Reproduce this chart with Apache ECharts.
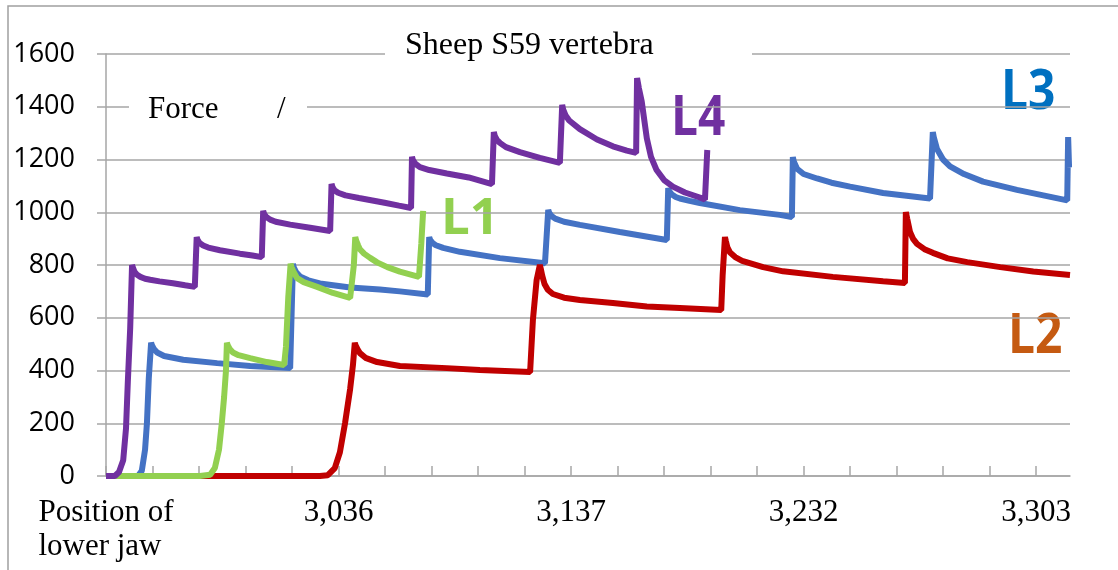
<!DOCTYPE html>
<html>
<head>
<meta charset="utf-8">
<title>Sheep S59 vertebra</title>
<script src="https://cdn.jsdelivr.net/npm/echarts@6/dist/echarts.min.js"></script>
<style>
  html, body { margin: 0; padding: 0; background: #fff; }
  #chart { width: 1118px; height: 570px; }
</style>
</head>
<body>
<div id="chart"></div>
<script>
// Position along the jaw travel (sample index, ticks every 10) and force readings.
const tickLabels = ['Position of\nlower jaw', '3,036', '3,137', '3,232', '3,303'];
const labelPos = [0, 50, 100, 150, 200];
const tickPos = [0, 10, 20, 30, 40, 50, 60, 70, 80, 90, 100, 110, 120, 130, 140, 150, 160, 170, 180, 190, 200];
const forceTicks = [0, 200, 400, 600, 800, 1000, 1200, 1400, 1600];

// L4
const l4Pos = [0, 1.9, 2.8, 3.7, 4.3, 4.7, 5.2, 5.6,
  5.8, 6.1, 6.6, 7.4, 8.4, 9.5, 11.5, 14.4, 17.0, 19.1,
  19.5, 19.7, 20.1, 20.9, 22.0, 24.5, 28.8, 31.5, 33.5,
  33.8, 34.0, 34.4, 35.3, 36.5, 39.6, 43.9, 48.2,
  48.5, 48.7, 49.1, 49.9, 51.5, 54.4, 59.9, 63.0, 65.6,
  65.8, 66.0, 66.5, 67.5, 69.5, 73.3, 78.0, 83.0,
  83.4, 83.6, 84.0, 84.7, 86.0, 89.0, 93.3, 97.6,
  98.1, 98.3, 98.8, 99.6, 101.9, 105.6, 109.0, 112.0, 114.0,
  114.2, 114.6, 115.2, 116.3, 117.2, 118.4, 120.0, 121.9, 124.5, 127.7, 128.8,
  129.3];
const l4Force = [0, 0, 15, 60, 180, 360, 560, 800,
  790, 775, 764, 755, 748, 744, 738, 731, 723, 717,
  906, 895, 884, 874, 866, 856, 843, 836, 830,
  1005, 994, 983, 972, 964, 953, 941, 929,
  1107, 1096, 1084, 1074, 1064, 1054, 1036, 1025, 1016,
  1210, 1198, 1184, 1171, 1160, 1147, 1132, 1107,
  1304, 1290, 1276, 1263, 1247, 1228, 1206, 1187,
  1407, 1390, 1368, 1348, 1315, 1276, 1250, 1234, 1225,
  1509, 1470, 1420, 1280, 1210, 1160, 1122, 1097, 1075, 1056, 1048,
  1236];

// L3
const l3Pos = [0, 6.9, 7.7, 8.4, 8.8, 9.2, 9.7,
  9.9, 10.3, 11.0, 12.5, 16.6, 23.9, 31.0, 39.6,
  40.2, 40.4, 40.9, 41.7, 43.5, 46.0, 52.5, 58.9, 63.2, 69.2,
  69.5, 69.7, 70.2, 70.8, 72.5, 76.1, 84.7, 94.4,
  95.1, 95.3, 95.8, 96.6, 98.5, 101.9, 110.5, 120.6,
  120.9, 121.1, 121.7, 122.5, 123.4, 125.5, 127.7, 136.3, 144.9, 147.5,
  147.7, 147.9, 148.6, 150.0, 152.9, 156.0, 160.0, 167.1, 177.2,
  177.8, 178.0, 178.7, 180.0, 181.5, 184.5, 188.6, 195.9, 206.7,
  206.9, 207.1];
const l3Force = [0, 0, 20, 100, 200, 370, 505,
  495, 482, 468, 455, 441, 428, 417, 409,
  804, 790, 772, 757, 742, 730, 715, 707, 700, 688,
  906, 895, 884, 876, 865, 850, 826, 807,
  1009, 998, 986, 976, 964, 952, 925, 895,
  1092, 1080, 1067, 1058, 1052, 1043, 1035, 1008, 990, 982,
  1209, 1192, 1165, 1145, 1128, 1112, 1097, 1073, 1052,
  1304, 1285, 1240, 1200, 1174, 1145, 1116, 1085, 1045,
  1285, 1170];

// L1
const l1Pos = [0, 20.2, 22.4, 23.4, 24.3, 24.9, 25.4, 25.8, 26.0,
  26.2, 26.6, 27.3, 28.5, 31.0, 34.6, 38.3,
  38.7, 39.2, 39.7,
  39.9, 40.3, 41.1, 42.5, 45.4, 48.8, 52.5,
  52.9, 53.3, 53.6,
  53.8, 54.2, 54.6, 55.5, 56.8, 58.3, 60.5, 63.2, 67.3,
  67.8, 68.2];
const l1Force = [0, 0, 5, 30, 100, 200, 300, 400, 505,
  495, 482, 468, 458, 447, 432, 421,
  490, 680, 805,
  792, 775, 750, 735, 717, 694, 675,
  680, 800, 906,
  893, 875, 860, 843, 827, 810, 792, 775, 755,
  880, 1005];

// L2
const l2Pos = [0, 46.0, 47.7, 49.2, 50.3, 51.4, 52.5, 53.1, 53.5,
  53.7, 54.1, 54.6, 55.8, 58.3, 63.2, 73.3, 80.4, 91.2,
  91.8, 92.6, 93.3,
  93.5, 93.8, 94.3, 95.0, 96.1, 98.5, 101.9, 109.0, 116.3, 123.4, 132.3,
  132.6, 133.1,
  133.3, 133.6, 134.2, 135.3, 136.8, 141.3, 145.6, 156.3, 167.1, 171.8,
  172.0,
  172.3, 172.9, 173.6, 174.4, 176.0, 177.8, 181.0, 185.2, 192.3, 199.4, 207.3];
const l2Force = [0, 0, 3, 30, 90, 200, 330, 420, 505,
  494, 480, 466, 448, 432, 417, 409, 402, 394,
  591, 743, 800,
  785, 760, 728, 706, 690, 676, 667, 656, 643, 637, 629,
  760, 906,
  890, 868, 847, 830, 816, 792, 776, 755, 738, 732,
  1001,
  975, 925, 898, 880, 860, 846, 825, 811, 792, 775, 762];

const zip = (xs, ys) => xs.map((x, i) => [x, ys[i]]);

const gridColor = '#A6A6A6';
const serif = '"Liberation Serif", "Times New Roman", serif';
const sans = '"Open Sans", "Noto Sans", sans-serif';

function lineSeries(name, color, xs, ys) {
  return {
    name: name,
    type: 'line',
    data: zip(xs, ys),
    showSymbol: false,
    symbol: 'none',
    lineStyle: { color: color, width: 6, cap: 'butt', join: 'bevel' },
    itemStyle: { color: color },
    emphasis: { disabled: true },
    animation: false
  };
}

const chart = echarts.init(document.getElementById('chart'), null, { renderer: 'canvas' });

chart.setOption({
  animation: false,
  backgroundColor: '#fff',
  grid: { left: 106, right: 48, top: 54, bottom: 94 },
  xAxis: {
    type: 'value',
    min: 0,
    max: 207.3,
    axisLine: { show: true, lineStyle: { color: gridColor, width: 1.5 } },
    axisTick: {
      show: true, inside: true, length: 10,
      customValues: tickPos,
      lineStyle: { color: gridColor, width: 1.5 }
    },
    splitLine: { show: false },
    axisLabel: {
      customValues: labelPos,
      margin: 20,
      color: '#000',
      fontFamily: serif,
      fontSize: 31,
      lineHeight: 34,
      formatter: function (value) {
        const i = labelPos.indexOf(Math.round(value));
        if (i < 0) return '';
        if (i === 0) {
          return tickLabels[0].split('\n').map(function (s) { return '{h|' + s + '}'; }).join('\n');
        }
        return tickLabels[i];
      },
      rich: {
        h: { align: 'left', fontFamily: serif, fontSize: 31, lineHeight: 34, color: '#000' }
      }
    }
  },
  yAxis: {
    type: 'value',
    min: forceTicks[0],
    max: forceTicks[forceTicks.length - 1],
    interval: 200,
    axisLine: { show: true, lineStyle: { color: gridColor, width: 1.5 } },
    axisTick: { show: true, inside: false, length: 9, lineStyle: { color: gridColor, width: 1.5 } },
    splitLine: { show: true, lineStyle: { color: gridColor, width: 1.5 } },
    axisLabel: {
      margin: 31, color: '#000', fontFamily: sans, fontSize: 27,
      formatter: function (v) { return String(v); }
    }
  },
  series: [
    lineSeries('L3', '#4472C4', l3Pos, l3Force),
    lineSeries('L2', '#C00000', l2Pos, l2Force),
    lineSeries('L1', '#92D050', l1Pos, l1Force),
    lineSeries('L4', '#7030A0', l4Pos, l4Force)
  ],
  graphic: [
    // chart frame
    { type: 'rect', z: 100, silent: true,
      shape: { x: 8, y: 6, width: 1130, height: 590 },
      style: { fill: null, stroke: '#A0A0A0', lineWidth: 1.5 } },
    // title box
    { type: 'rect', z: 50, silent: true,
      shape: { x: 385, y: 28, width: 367, height: 46 },
      style: { fill: '#fff' } },
    { type: 'text', z: 51, silent: true, x: 405, y: 46,
      style: { text: 'Sheep S59 vertebra', fill: '#000', font: '32px ' + serif, textVerticalAlign: 'middle' } },
    // axis caption box
    { type: 'rect', z: 50, silent: true,
      shape: { x: 129, y: 92, width: 178, height: 34 },
      style: { fill: '#fff' } },
    { type: 'text', z: 51, silent: true, x: 148, y: 110,
      style: { text: 'Force', fill: '#000', font: '31px ' + serif, textVerticalAlign: 'middle' } },
    { type: 'text', z: 51, silent: true, x: 277, y: 110,
      style: { text: '/', fill: '#000', font: '31px ' + serif, textVerticalAlign: 'middle' } },
    // series tags
    { type: 'text', z: -1, silent: true, x: 671, y: 119, scaleX: 0.87,
      style: { text: 'L4', fill: '#7030A0', font: 'bold 55px ' + sans, textVerticalAlign: 'middle' } },
    { type: 'text', z: -1, silent: true, x: 1001, y: 93, scaleX: 0.87,
      style: { text: 'L3', fill: '#0070C0', font: 'bold 55px ' + sans, textVerticalAlign: 'middle' } },
    { type: 'text', z: -1, silent: true, x: 441, y: 219, scaleX: 1.0,
      style: { text: 'L1', fill: '#92D050', font: 'bold 51px ' + sans, textVerticalAlign: 'middle' } },
    { type: 'text', z: -1, silent: true, x: 1008, y: 337, scaleX: 0.87,
      style: { text: 'L2', fill: '#C55A11', font: 'bold 55px ' + sans, textVerticalAlign: 'middle' } }
  ]
});
</script>
</body>
</html>
